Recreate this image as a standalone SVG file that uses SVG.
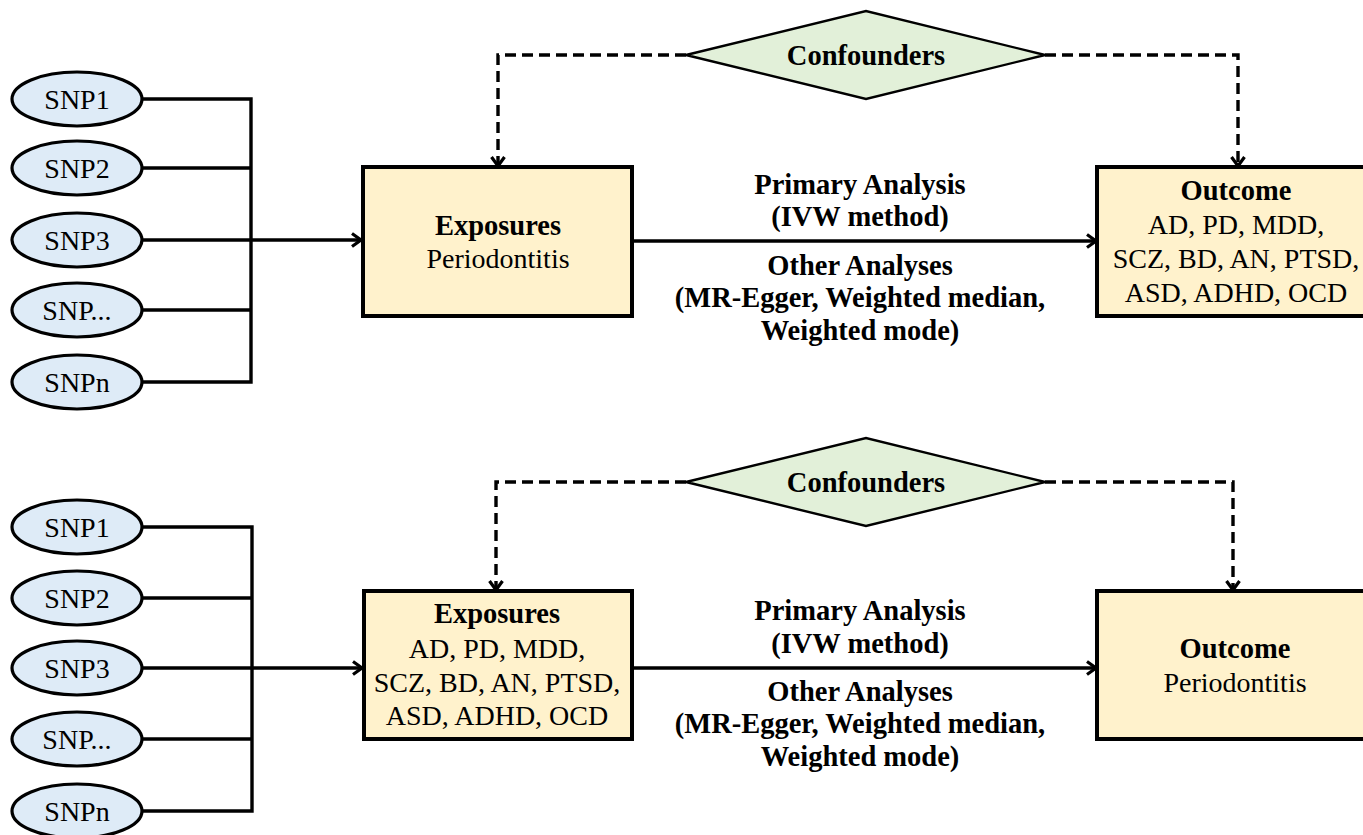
<svg xmlns="http://www.w3.org/2000/svg" width="1363" height="835" viewBox="0 0 1363 835">
  <style>
    .snp { fill: #DEEBF7; stroke: #000; stroke-width: 3.2; }
    .box { fill: #FFF2CC; stroke: #000; stroke-width: 4; }
    .dia { fill: #E2F0D9; stroke: #000; stroke-width: 2.4; }
    .ln { fill: none; stroke: #000; stroke-width: 3.4; }
    .dash { fill: none; stroke: #000; stroke-width: 3.4; stroke-dasharray: 11 6; }
    text { font-family: "Liberation Serif", "Times New Roman", serif; font-size: 28px; fill: #000; text-anchor: middle; }
    .b { font-weight: bold; font-size: 28.5px; }
  </style>
  <defs>
    <marker id="arr" markerWidth="16" markerHeight="16" refX="12" refY="8" orient="auto" markerUnits="userSpaceOnUse">
      <polyline points="3,1.5 12,8 3,14.5" fill="none" stroke="#000" stroke-width="3.2"/>
    </marker>
  </defs>

  <!-- upper panel: periodontitis as exposure -->
  <g id="connectors-top">
    <polyline class="ln" points="142,99 251,99 251,382 142,382"/>
    <line class="ln" x1="142" y1="168" x2="251" y2="168"/>
    <line class="ln" x1="142" y1="310" x2="251" y2="310"/>
    <line class="ln" x1="142" y1="240" x2="361" y2="240" marker-end="url(#arr)"/>
    <line class="ln" x1="632" y1="241" x2="1096" y2="241" marker-end="url(#arr)"/>
    <polyline class="dash" points="686,55 498,55 498,166" marker-end="url(#arr)"/>
    <polyline class="dash" points="1045,55 1238,55 1238,166" marker-end="url(#arr)"/>
  </g>
  <g id="snp1-top"><ellipse class="snp" cx="77" cy="99" rx="65" ry="27"/><text x="77" y="109">SNP1</text></g>
  <g id="snp2-top"><ellipse class="snp" cx="77" cy="168" rx="65" ry="27"/><text x="77" y="178">SNP2</text></g>
  <g id="snp3-top"><ellipse class="snp" cx="77" cy="240" rx="65" ry="27"/><text x="77" y="250">SNP3</text></g>
  <g id="snpdots-top"><ellipse class="snp" cx="77" cy="310" rx="65" ry="27"/><text x="77" y="320">SNP...</text></g>
  <g id="snpn-top"><ellipse class="snp" cx="77" cy="382" rx="65" ry="27"/><text x="77" y="392">SNPn</text></g>
  <g id="confounders-top">
    <polygon class="dia" points="686,55 866,11 1045,55 866,99"/>
    <text class="b" x="866" y="65">Confounders</text>
  </g>
  <g id="exposure-top">
    <rect class="box" x="363" y="167" width="269" height="149"/>
    <text class="b" x="498" y="235">Exposures</text>
    <text x="498" y="268">Periodontitis</text>
  </g>
  <g id="outcome-top">
    <rect class="box" x="1097" y="167" width="290" height="149"/>
    <text class="b" x="1236" y="200">Outcome</text>
    <text x="1236" y="234">AD, PD, MDD,</text>
    <text x="1236" y="268">SCZ, BD, AN, PTSD,</text>
    <text x="1236" y="302">ASD, ADHD, OCD</text>
  </g>
  <g id="methods-top">
    <text class="b" x="860" y="194">Primary Analysis</text>
    <text class="b" x="860" y="226">(IVW method)</text>
    <text class="b" x="860" y="275">Other Analyses</text>
    <text class="b" x="860" y="307">(MR-Egger, Weighted median,</text>
    <text class="b" x="860" y="340">Weighted mode)</text>
  </g>

  <!-- lower panel: psychiatric disorders as exposure -->
  <g id="connectors-bottom">
    <polyline class="ln" points="142,527 252,527 252,811 142,811"/>
    <line class="ln" x1="142" y1="598" x2="252" y2="598"/>
    <line class="ln" x1="142" y1="739" x2="252" y2="739"/>
    <line class="ln" x1="142" y1="668" x2="362" y2="668" marker-end="url(#arr)"/>
    <line class="ln" x1="632" y1="668" x2="1096" y2="668" marker-end="url(#arr)"/>
    <polyline class="dash" points="686,482 496,482 496,590" marker-end="url(#arr)"/>
    <polyline class="dash" points="1045,482 1233,482 1233,590" marker-end="url(#arr)"/>
  </g>
  <g id="snp1-bottom"><ellipse class="snp" cx="77" cy="527" rx="65" ry="27"/><text x="77" y="537">SNP1</text></g>
  <g id="snp2-bottom"><ellipse class="snp" cx="77" cy="598" rx="65" ry="27"/><text x="77" y="608">SNP2</text></g>
  <g id="snp3-bottom"><ellipse class="snp" cx="77" cy="668" rx="65" ry="27"/><text x="77" y="678">SNP3</text></g>
  <g id="snpdots-bottom"><ellipse class="snp" cx="77" cy="739" rx="65" ry="27"/><text x="77" y="749">SNP...</text></g>
  <g id="snpn-bottom"><ellipse class="snp" cx="77" cy="811" rx="65" ry="27"/><text x="77" y="821">SNPn</text></g>
  <g id="confounders-bottom">
    <polygon class="dia" points="686,482 866,438 1045,482 866,526"/>
    <text class="b" x="866" y="492">Confounders</text>
  </g>
  <g id="exposure-bottom">
    <rect class="box" x="364" y="591" width="268" height="148"/>
    <text class="b" x="497" y="623">Exposures</text>
    <text x="497" y="658">AD, PD, MDD,</text>
    <text x="497" y="692">SCZ, BD, AN, PTSD,</text>
    <text x="497" y="725">ASD, ADHD, OCD</text>
  </g>
  <g id="outcome-bottom">
    <rect class="box" x="1097" y="591" width="290" height="148"/>
    <text class="b" x="1235" y="658">Outcome</text>
    <text x="1235" y="692">Periodontitis</text>
  </g>
  <g id="methods-bottom">
    <text class="b" x="860" y="620">Primary Analysis</text>
    <text class="b" x="860" y="653">(IVW method)</text>
    <text class="b" x="860" y="701">Other Analyses</text>
    <text class="b" x="860" y="733">(MR-Egger, Weighted median,</text>
    <text class="b" x="860" y="766">Weighted mode)</text>
  </g>
</svg>
